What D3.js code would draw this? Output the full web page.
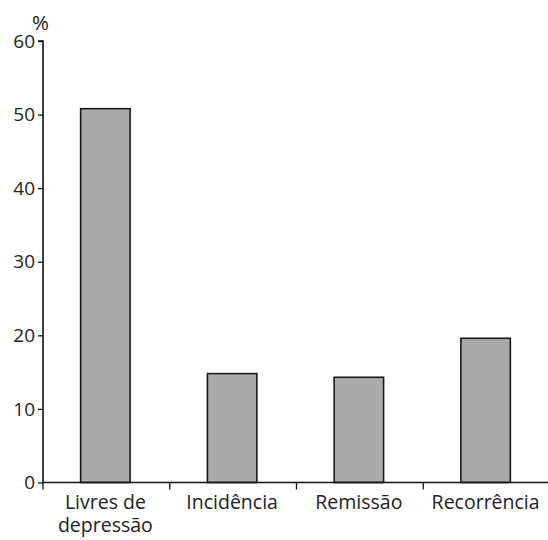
<!DOCTYPE html>
<html>
<head>
<meta charset="utf-8">
<script src="https://cdn.jsdelivr.net/npm/d3@7"></script>
<style>
  body { margin: 0; background: #fff; }
  text { font-family: "Open Sans", "Noto Sans", sans-serif; fill: #222; }
</style>
</head>
<body>
<div id="chart"></div>
<script>
// data
var categories = ["Livres de depressão", "Incidência", "Remissão", "Recorrência"];
var labelLines = [["Livres de", "depressão"], ["Incidência"], ["Remissão"], ["Recorrência"]];
var values = [50.8, 14.8, 14.3, 19.6];
var yTicks = [0, 10, 20, 30, 40, 50, 60];

var svgWidth = 548;
var svgHeight = 540;
var fontName = "'Open Sans', 'Noto Sans', sans-serif";

var svg = d3.select("#chart")
  .append("svg")
  .attr("width", svgWidth)
  .attr("height", svgHeight);

var x = d3.scaleBand()
  .domain(categories)
  .range([43, 550])
  .padding(0);

var y = d3.scaleLinear()
  .domain([0, 60])
  .range([482.5, 41]);

var barW = x.bandwidth() * 0.39;

// bars
svg.selectAll("rect.bar")
  .data(values)
  .enter()
  .append("rect")
  .attr("class", "bar")
  .attr("x", (d, i) => x(categories[i]) + x.bandwidth() / 2 - barW / 2 - 1)
  .attr("y", d => y(d))
  .attr("width", barW)
  .attr("height", d => y(0) - y(d))
  .attr("fill", "#aaaaaa")
  .attr("stroke", "#1a1a1a")
  .attr("stroke-width", 1.6);

// y axis
var leftAxis = d3.axisLeft(y)
  .tickValues(yTicks)
  .tickSize(5)
  .tickPadding(3);

var yAxis = svg.append("g")
  .attr("transform", "translate(43,0)")
  .call(leftAxis);

yAxis.select(".domain").attr("stroke", "#111").attr("stroke-width", 1.6)
  .attr("d", `M-5,${y(60)}H0V${y(0)}`);
yAxis.selectAll(".tick line").attr("stroke", "#111").attr("stroke-width", 1.3);
yAxis.selectAll(".tick text")
  .style("font-size", "19px")
  .style("font-family", fontName)
  .attr("fill", "#222");

// x axis line
svg.append("line")
  .attr("x1", 43)
  .attr("x2", svgWidth)
  .attr("y1", y(0))
  .attr("y2", y(0))
  .attr("stroke", "#111")
  .attr("stroke-width", 1.6);

// category boundary ticks
svg.selectAll("line.xtick")
  .data(categories)
  .enter()
  .append("line")
  .attr("class", "xtick")
  .attr("x1", d => x(d))
  .attr("x2", d => x(d))
  .attr("y1", y(0))
  .attr("y2", y(0) + 7)
  .attr("stroke", "#111")
  .attr("stroke-width", 1.3);

// category labels, one text per line
labelLines.forEach(function(lines, i) {
  lines.forEach(function(line, j) {
    svg.append("text")
      .attr("class", "xlab")
      .attr("text-anchor", "middle")
      .attr("x", x(categories[i]) + x.bandwidth() / 2 - 1)
      .attr("y", 509 + j * 22.5)
      .style("font-size", "19.5px")
      .text(line);
  });
});

// unit label
svg.append("text")
  .attr("x", 32)
  .attr("y", 30)
  .style("font-size", "20.5px")
  .text("%");
</script>
</body>
</html>
